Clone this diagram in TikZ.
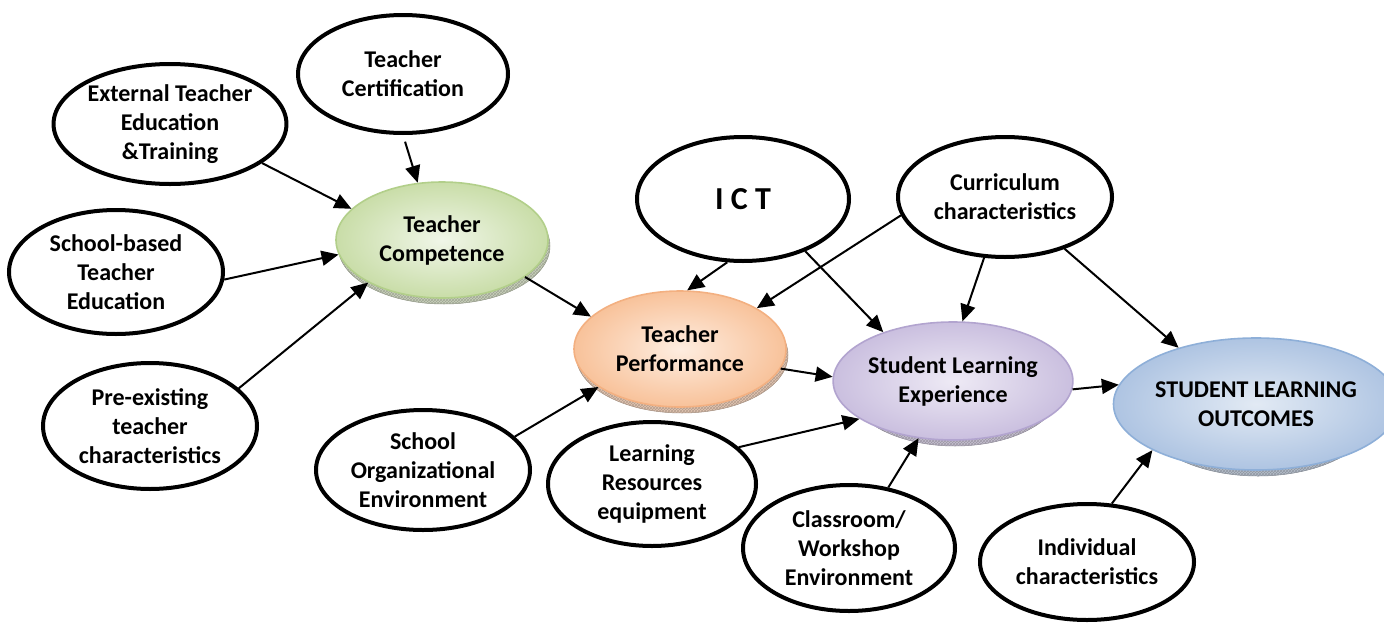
\documentclass[tikz,border=0pt]{standalone}
\usepackage{fontspec}
\setmainfont{Carlito}
\usetikzlibrary{arrows.meta,shapes.geometric,patterns}
\definecolor{gIn}{HTML}{F0F6E8}\definecolor{gOut}{HTML}{C9DDA8}\definecolor{gBd}{HTML}{B2CF8A}\definecolor{gRim}{HTML}{C9D1BB}
\definecolor{oIn}{HTML}{FEEDE0}\definecolor{oOut}{HTML}{F8C29A}\definecolor{oBd}{HTML}{F3B081}\definecolor{oRim}{HTML}{E2C6B2}
\definecolor{pIn}{HTML}{EEEAF5}\definecolor{pOut}{HTML}{CABFDF}\definecolor{pBd}{HTML}{B2A4CF}\definecolor{pRim}{HTML}{C5BFD0}
\definecolor{bIn}{HTML}{E2EAF4}\definecolor{bOut}{HTML}{AEC4E2}\definecolor{bBd}{HTML}{8EAFD8}\definecolor{bRim}{HTML}{B5BECB}
\tikzset{
  txt/.style={font=\fontsize{24}{29}\selectfont\bfseries, align=center},
  plain/.style={ellipse, draw=black, line width=4pt, fill=white, inner sep=0pt, txt},
  colr/.style n args={3}{ellipse, inner sep=0pt, txt, draw=#3, line width=1.6pt, inner color=#1, outer color=#2},
  rim/.style={fill=#1, draw=#1!70!black, line width=0.5pt, postaction={pattern=crosshatch, pattern color=#1!80!black}},
  sz/.style 2 args={minimum width=#1pt, minimum height=#2pt},
  arr/.style={line width=2pt, -{Triangle[length=17pt,width=15pt]}}
}
\begin{document}
\begin{tikzpicture}[x=1pt,y=-1pt]
\useasboundingbox (0,0) rectangle (1384,624);
% rims of the coloured ellipses
\path[rim=gRim] (444,246) ellipse [x radius=106pt, y radius=58pt];
\path[rim=oRim] (682,355) ellipse [x radius=106pt, y radius=58pt];
\path[rim=pRim] (955,387) ellipse [x radius=107pt, y radius=59pt];
\path[rim=bRim] (1258,410) ellipse [x radius=119pt, y radius=66pt];
% nodes
\node[plain, sz={210}{118}] (cert) at (403,74) {Teacher\\Certification};
\node[plain, sz={206}{120}] (ext) at (170,124) {External Teacher\\Education\\\&Training};
\node[plain, sz={214}{124}] (sbte) at (116,272) {School-based\\Teacher\\Education};
\node[plain, sz={214}{126}] (pre) at (150,426) {Pre-existing\\teacher\\characteristics};
\node[colr={gIn}{gOut}{gBd}, sz={212}{116}] (tc) at (442,240) {Teacher\\Competence};
\node[plain, sz={212}{124}, font=\fontsize{32}{36}\selectfont\bfseries] (ict) at (743,199) {I C T};
\node[plain, sz={214}{120}] (curr) at (1005,197) {Curriculum\\characteristics};
\node[colr={oIn}{oOut}{oBd}, sz={212}{116}] (tp) at (680,349) {Teacher\\Performance};
\node[colr={pIn}{pOut}{pBd}, sz={214}{118}] (sle) at (953,381) {Student Learning\\Experience};
\node[colr={bIn}{bOut}{bBd}, sz={238}{132}] (slo) at (1256,404) {STUDENT LEARNING\\OUTCOMES};
\node[plain, sz={214}{120}] (soe) at (423,470) {School\\Organizational\\Environment};
\node[plain, sz={208}{124}] (lre) at (652,484) {Learning\\Resources\\equipment};
\node[plain, sz={212}{126}] (cwe) at (849,548) {Classroom/\\Workshop\\Environment};
\node[plain, sz={214}{116}] (ind) at (1087,562) {Individual\\characteristics};
% connectors
\draw[arr] (ext.-23) -- (tc.161);
\draw[arr, shorten <=7pt] (cert.-90) -- (tc.113);
\draw[arr] (sbte.-4) -- (tc.-172);
\draw[arr] (pre.23) -- (tc.-150);
\draw[arr] (tc.-24) -- (tp.160);
\draw[arr] (soe.20) -- (tp.-155);
\draw[arr] (ict.-104) -- (tp.83);
\draw[arr] (curr.-170) -- (tp.28);
\draw[arr] (ict.-40) -- (sle.145);
\draw[arr] (curr.-109) -- (sle.81);
\draw[arr] (tp.-11) -- (sle.178);
\draw[arr] (lre.23) -- (sle.-158);
\draw[arr] (cwe.57) -- (sle.-121);
\draw[arr] (sle.-4) -- (slo.172);
\draw[arr] (curr.-41) -- (slo.144);
\draw[arr] (ind.67) -- (slo.-156);
\end{tikzpicture}
\end{document}
